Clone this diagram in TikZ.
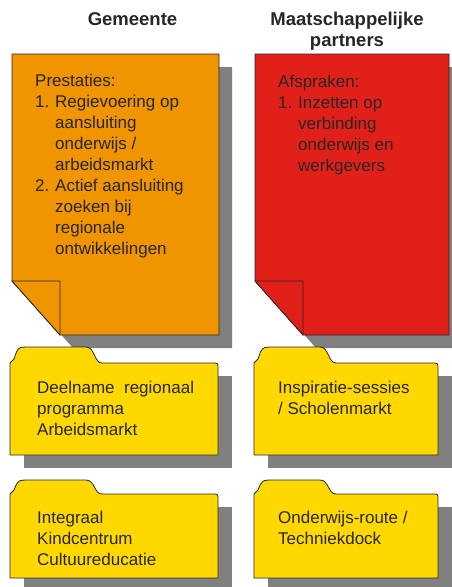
\documentclass[tikz,border=0pt]{standalone}
\usepackage{fontspec}
\setmainfont{Liberation Sans}
\usepackage{tikz}

\definecolor{orangenote}{HTML}{F09400}
\definecolor{rednote}{HTML}{E2201A}
\definecolor{yellowfolder}{HTML}{FFD800}
\newcommand{\itemnr}[1]{\makebox[20pt][l]{#1}}
\newcommand{\listindent}{\hspace*{20pt}}

\begin{document}
\begin{tikzpicture}[x=1pt, y=-1pt]
  \tikzset{
    dropshade/.style={fill=gray, draw=none},
    edge/.style={draw=black!85, line width=0.8pt, line join=round},
    body/.style={font=\fontsize{17}{21}\selectfont, align=left, anchor=north west, inner sep=0pt, text=black!85},
    head/.style={font=\bfseries\fontsize{18.5}{21}\selectfont, align=center, anchor=north, inner sep=0pt, text=black!85}
  }
  \useasboundingbox (0,0) rectangle (452,587);
  \clip (0,0) rectangle (452,587);

  % column heads
  \node[head] (gemeente) at (132.5,12) {Gemeente};
  \node[head] (partners) at (347,12) {Maatschappelijke\\partners};

  % notes with folded corner
  \foreach \L/\R/\col in {12/219/orangenote, 255/449/rednote} {
    \fill[dropshade] ({\L+13},67) -- ({\R+13},67) -- ({\R+13},348) -- ({\L+61},348) -- ({\L+13},294) -- cycle;
    \draw[edge, fill=\col] (\L,54) -- (\R,54) -- (\R,335) -- ({\L+48},335) -- (\L,281) -- cycle;
    \draw[edge, fill=\col] (\L,281) -- ({\L+48},281) -- ({\L+48},335) -- cycle;
  }

  % folders
  \foreach \L/\R/\U/\T/\B/\tab in {10/218/347/363/455/88, 254/438/347/363/455/78,
                                   10/218/480/494/578/88, 254/438/480/494/578/78} {
    \fill[dropshade] ({\L+14},{\T+13}) rectangle ({\R+14},{\B+13});
    \draw[edge, fill=yellowfolder] (\L,\B) -- (\L,\T) -- ({\L+4},{\T-4})
      .. controls ({\L+8},\U) .. ({\L+20},\U) -- ({\L+\tab-12},\U)
      .. controls ({\L+\tab-3},\U) and ({\L+\tab-4},\T) .. ({\L+\tab+4},\T)
      -- ({\R-6},\T) .. controls (\R,\T) .. (\R,{\T+6}) -- (\R,\B) -- cycle;
  }

  % texts
  \node[body] (prestaties) at (35,74) {Prestaties:\\
    \itemnr{1.}Regievoering op\\
    \listindent aansluiting\\
    \listindent onderwijs /\\
    \listindent arbeidsmarkt\\
    \itemnr{2.}Actief aansluiting\\
    \listindent zoeken bij\\
    \listindent regionale\\
    \listindent ontwikkelingen};
  \node[body] (afspraken) at (278,75) {Afspraken:\\
    \itemnr{1.}Inzetten op\\
    \listindent verbinding\\
    \listindent onderwijs en\\
    \listindent werkgevers};
  \node[body] (deelname) at (37,381) {Deelname\ \ regionaal\\programma\\Arbeidsmarkt};
  \node[body] (inspiratie) at (278,381) {Inspiratie-sessies\\/ Scholenmarkt};
  \node[body] (integraal) at (37,511) {Integraal\\Kindcentrum\\Cultuureducatie};
  \node[body] (onderwijs) at (278,511) {Onderwijs-route /\\Techniekdock};
\end{tikzpicture}
\end{document}
